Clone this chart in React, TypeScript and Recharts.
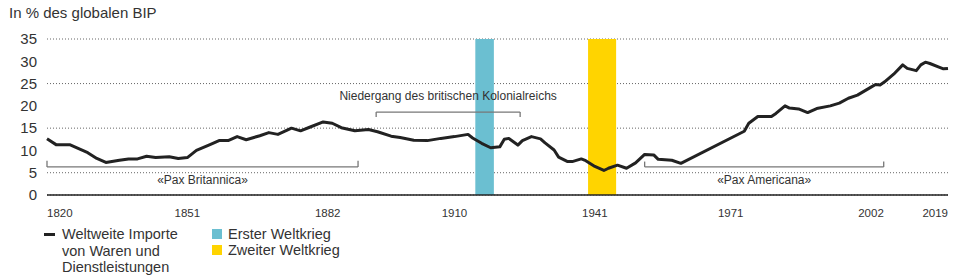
import {
  LineChart, Line, XAxis, YAxis, CartesianGrid,
  ReferenceArea, ReferenceLine,
} from 'recharts';

const years = [
  1820, 1822, 1825, 1827, 1829, 1831, 1833, 1836, 1838, 1840,
  1842, 1844, 1847, 1849, 1851, 1853, 1856, 1858, 1860, 1862,
  1864, 1867, 1869, 1871, 1874, 1876, 1878, 1881, 1883, 1885,
  1888, 1891, 1893, 1896, 1898, 1901, 1904, 1907, 1910, 1913,
  1914, 1916, 1918, 1920, 1921, 1922, 1924, 1925, 1927, 1929,
  1930, 1932, 1933, 1935, 1936, 1938, 1939, 1941, 1943, 1944,
  1946, 1948, 1950, 1952, 1954, 1955, 1958, 1960, 1974, 1975,
  1977, 1980, 1981, 1983, 1984, 1986, 1988, 1990, 1993, 1995,
  1997, 1999, 2002, 2003, 2004, 2005, 2007, 2009, 2010, 2012,
  2013, 2014, 2015, 2017, 2018, 2019,
];

const importShare = [
  12.6, 11.3, 11.3, 10.4, 9.5, 8.2, 7.3, 7.8, 8.1, 8.1,
  8.7, 8.4, 8.6, 8.2, 8.4, 10.0, 11.3, 12.2, 12.2, 13.1,
  12.4, 13.3, 14.0, 13.6, 15.0, 14.4, 15.2, 16.4, 16.1, 15.1,
  14.4, 14.7, 14.2, 13.2, 12.9, 12.3, 12.2, 12.7, 13.1, 13.6,
  12.8, 11.6, 10.6, 10.8, 12.5, 12.7, 11.2, 12.2, 13.1, 12.6,
  11.7, 10.1, 8.5, 7.5, 7.5, 8.1, 7.7, 6.4, 5.5, 6.0,
  6.7, 6.0, 7.2, 9.1, 9.0, 8.0, 7.8, 7.1, 14.3, 16.1,
  17.6, 17.6, 18.3, 20.0, 19.5, 19.3, 18.5, 19.4, 20.0, 20.6,
  21.7, 22.4, 24.2, 24.8, 24.7, 25.4, 27.1, 29.2, 28.4, 27.9,
  29.2, 29.8, 29.5, 28.7, 28.3, 28.4,
];

const xTicks = [1820, 1851, 1882, 1910, 1941, 1971, 2002, 2019];
const yTicks = [0, 5, 10, 15, 20, 25, 30, 35];

const firstWar = [1914.6, 1918.7];
const secondWar = [1939.5, 1945.7];

// brackets: [from, to, level, tickEnd]
const paxBritannica = [1820, 1888.7, 6.3, 7.7];
const decline = [1892.7, 1924.5, 18.6, 17.5];
const paxAmericana = [1952, 2004.8, 6.3, 7.5];

const FONT = "'Liberation Sans', Arial, sans-serif";
const BLUE = '#6bbfd1';
const YELLOW = '#ffd400';
const BRACKET = '#777';

const data = years.map((y, i) => ({ year: y, value: importShare[i] }));

function XTick(props: any) {
  const { x, y, payload, index } = props;
  const anchor = index === 0 ? 'start' : index === xTicks.length - 1 ? 'end' : 'middle';
  return (
    <text x={x} y={y} dy="0.71em" textAnchor={anchor} fontSize={11.5} fill="#333" fontFamily={FONT}>
      {payload.value}
    </text>
  );
}

function bracket(b: number[], label: string, below: boolean) {
  const [a, z, lvl, end] = b;
  const lbl = below
    ? { value: label, position: 'bottom' as const, offset: 9, fontSize: 12, fill: '#333', fontFamily: FONT }
    : { value: label, position: 'top' as const, offset: 12, fontSize: 12, fill: '#333', fontFamily: FONT };
  return [
    <ReferenceLine key={label + 'h'} segment={[{ x: a, y: lvl }, { x: z, y: lvl }]} stroke={BRACKET} strokeWidth={1.3} label={lbl} />,
    <ReferenceLine key={label + 'l'} segment={[{ x: a, y: lvl }, { x: a, y: end }]} stroke={BRACKET} strokeWidth={1.3} />,
    <ReferenceLine key={label + 'r'} segment={[{ x: z, y: lvl }, { x: z, y: end }]} stroke={BRACKET} strokeWidth={1.3} />,
  ];
}

function LegendItem({ color, line, children, top, left }: any) {
  return (
    <div style={{ position: 'absolute', left, top, display: 'flex', alignItems: 'flex-start' }}>
      {line ? (
        <div style={{ width: 11, height: 3, background: '#222', marginTop: 7, marginRight: 7 }} />
      ) : (
        <div style={{ width: 10, height: 10, background: color, marginTop: 3, marginRight: 6 }} />
      )}
      <div style={{ fontSize: 14.5, lineHeight: '16.5px', color: '#333' }}>{children}</div>
    </div>
  );
}

export default function App() {
  return (
    <div style={{ position: 'absolute', left: 0, top: 0, width: 960, height: 279, background: '#fff', fontFamily: FONT, color: '#333' }}>
      <div style={{ position: 'absolute', left: 9, top: 4, fontSize: 15, lineHeight: '18px' }}>In % des globalen BIP</div>
      <LineChart width={960} height={279} data={data} margin={{ top: 39, right: 12, bottom: 54, left: 0 }}>
        <CartesianGrid vertical={false} stroke="#666" strokeDasharray="1 2" />
        <ReferenceArea x1={firstWar[0]} x2={firstWar[1]} y1={0} y2={35} fill={BLUE} fillOpacity={1} stroke="none" />
        <ReferenceArea x1={secondWar[0]} x2={secondWar[1]} y1={0} y2={35} fill={YELLOW} fillOpacity={1} stroke="none" />
        <XAxis
          dataKey="year"
          type="number"
          domain={[1820, 2019]}
          ticks={xTicks}
          axisLine={false}
          tickLine={false}
          tickMargin={8}
          height={30}
          tick={XTick}
          interval={0}
        />
        <YAxis
          domain={[0, 35]}
          ticks={yTicks}
          width={47}
          axisLine={false}
          tickLine={false}
          tickMargin={4}
          tick={{ fontSize: 15, fill: '#333', fontFamily: FONT }}
        />
        <ReferenceLine y={0} stroke="#222" strokeWidth={1.5} />
        {bracket(paxBritannica, '«Pax Britannica»', true)}
        {bracket(decline, 'Niedergang des britischen Kolonialreichs', false)}
        {bracket(paxAmericana, '«Pax Americana»', true)}
        <Line
          type="linear"
          dataKey="value"
          stroke="#222"
          strokeWidth={3}
          strokeLinejoin="round"
          dot={false}
          isAnimationActive={false}
        />
      </LineChart>
      <LegendItem line top={226} left={44}>
        Weltweite Importe<br />von Waren und<br />Dienstleistungen
      </LegendItem>
      <LegendItem color={BLUE} top={226} left={212}>Erster Weltkrieg</LegendItem>
      <LegendItem color={YELLOW} top={242} left={212}>Zweiter Weltkrieg</LegendItem>
    </div>
  );
}
